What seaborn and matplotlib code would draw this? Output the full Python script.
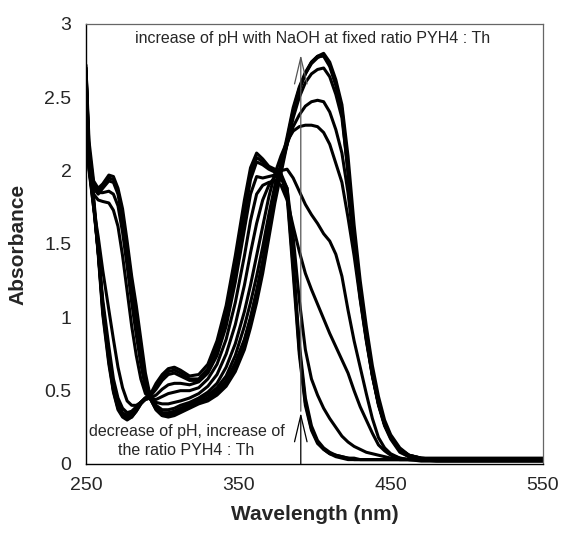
import numpy as np
import pandas as pd
import matplotlib
matplotlib.use("Agg")
import matplotlib.pyplot as plt
import seaborn as sns

wavelength = [250, 252, 255, 258, 261, 265, 268, 271, 274, 277, 280, 283, 286, 289, 292,
              296, 300, 304, 308, 312, 318, 324, 330, 336, 342, 348, 354, 358, 362, 366,
              370, 374, 378, 382, 386, 390, 394, 398, 402, 406, 410, 414, 418, 422, 426,
              430, 434, 438, 442, 446, 450, 456, 462, 470, 480, 500, 550]

acid_1 = [2.70, 2.20, 1.93, 1.88, 1.91, 1.97, 1.96, 1.88, 1.74, 1.52, 1.28, 1.08, 0.85, 0.62, 0.47,
          0.55, 0.61, 0.65, 0.66, 0.64, 0.60, 0.61, 0.68, 0.84, 1.08, 1.42, 1.80, 2.02, 2.12, 2.08,
          2.03, 2.01, 1.98, 1.88, 1.40, 0.82, 0.45, 0.26, 0.16, 0.11, 0.08, 0.06, 0.05, 0.04, 0.04,
          0.03, 0.03, 0.03, 0.03, 0.03, 0.03, 0.03, 0.03, 0.03, 0.03, 0.03, 0.03]
acid_2 = [2.68, 2.15, 1.90, 1.86, 1.90, 1.95, 1.94, 1.86, 1.70, 1.48, 1.24, 1.03, 0.80, 0.58, 0.46,
          0.53, 0.59, 0.63, 0.64, 0.62, 0.58, 0.58, 0.65, 0.80, 1.03, 1.36, 1.74, 1.98, 2.09, 2.06,
          2.02, 2.00, 1.97, 1.85, 1.35, 0.78, 0.42, 0.24, 0.15, 0.10, 0.07, 0.06, 0.05, 0.04, 0.03,
          0.03, 0.03, 0.03, 0.03, 0.03, 0.03, 0.03, 0.03, 0.02, 0.02, 0.02, 0.02]
acid_3 = [2.66, 2.12, 1.88, 1.84, 1.88, 1.93, 1.92, 1.84, 1.67, 1.45, 1.20, 0.99, 0.77, 0.56, 0.46,
          0.51, 0.57, 0.61, 0.62, 0.60, 0.57, 0.57, 0.63, 0.77, 0.99, 1.31, 1.69, 1.94, 2.06, 2.04,
          2.01, 1.99, 1.96, 1.83, 1.30, 0.75, 0.40, 0.23, 0.14, 0.10, 0.07, 0.05, 0.04, 0.03, 0.03,
          0.03, 0.03, 0.03, 0.03, 0.03, 0.03, 0.03, 0.03, 0.03, 0.03, 0.03, 0.03]
mid_w = [2.65, 2.10, 1.88, 1.85, 1.85, 1.86, 1.84, 1.76, 1.58, 1.35, 1.10, 0.88, 0.68, 0.52, 0.45,
         0.47, 0.51, 0.54, 0.55, 0.55, 0.54, 0.56, 0.62, 0.74, 0.94, 1.24, 1.60, 1.84, 1.96, 1.95,
         1.96, 1.97, 1.96, 1.88, 1.55, 1.12, 0.78, 0.58, 0.47, 0.38, 0.31, 0.25, 0.19, 0.15, 0.12,
         0.10, 0.08, 0.07, 0.06, 0.05, 0.04, 0.03, 0.03, 0.03, 0.03, 0.03, 0.03]
mid_y = [2.62, 2.05, 1.84, 1.80, 1.79, 1.78, 1.73, 1.62, 1.42, 1.18, 0.94, 0.74, 0.58, 0.48, 0.45,
         0.44, 0.46, 0.48, 0.49, 0.50, 0.50, 0.52, 0.58, 0.68, 0.85, 1.10, 1.42, 1.66, 1.84, 1.90,
         1.92, 1.93, 1.90, 1.80, 1.62, 1.45, 1.30, 1.19, 1.09, 0.99, 0.89, 0.80, 0.71, 0.62, 0.50,
         0.39, 0.30, 0.21, 0.13, 0.09, 0.06, 0.04, 0.03, 0.03, 0.03, 0.03, 0.03]
mid_x = [2.60, 2.00, 1.75, 1.55, 1.32, 1.05, 0.85, 0.66, 0.52, 0.43, 0.40, 0.40, 0.42, 0.44, 0.45,
         0.42, 0.41, 0.41, 0.42, 0.43, 0.45, 0.48, 0.53, 0.61, 0.75, 0.95, 1.22, 1.44, 1.64, 1.80,
         1.90, 1.96, 2.00, 2.01, 1.95, 1.86, 1.77, 1.70, 1.64, 1.57, 1.52, 1.43, 1.28, 1.05, 0.84,
         0.66, 0.48, 0.31, 0.18, 0.11, 0.07, 0.04, 0.03, 0.03, 0.03, 0.03, 0.03]
peak_23 = [2.62, 2.02, 1.75, 1.45, 1.12, 0.80, 0.58, 0.45, 0.38, 0.35, 0.36, 0.39, 0.42, 0.45, 0.45,
           0.40, 0.37, 0.37, 0.38, 0.40, 0.42, 0.45, 0.49, 0.55, 0.66, 0.82, 1.04, 1.22, 1.42, 1.62,
           1.82, 1.98, 2.10, 2.20, 2.27, 2.30, 2.31, 2.31, 2.30, 2.26, 2.18, 2.05, 1.92, 1.68, 1.42,
           1.12, 0.84, 0.60, 0.40, 0.26, 0.17, 0.08, 0.05, 0.03, 0.03, 0.03, 0.03]
peak_25 = [2.64, 2.03, 1.77, 1.45, 1.08, 0.75, 0.54, 0.41, 0.35, 0.33, 0.35, 0.38, 0.42, 0.45, 0.45,
           0.39, 0.35, 0.35, 0.36, 0.38, 0.41, 0.44, 0.47, 0.52, 0.60, 0.74, 0.94, 1.10, 1.28, 1.48,
           1.70, 1.90, 2.05, 2.18, 2.30, 2.38, 2.44, 2.47, 2.48, 2.47, 2.40, 2.28, 2.12, 1.85, 1.48,
           1.15, 0.86, 0.61, 0.41, 0.27, 0.18, 0.09, 0.05, 0.03, 0.03, 0.03, 0.03]
peak_27 = [2.66, 2.04, 1.78, 1.45, 1.06, 0.72, 0.52, 0.39, 0.34, 0.32, 0.34, 0.38, 0.42, 0.45, 0.45,
           0.38, 0.34, 0.34, 0.35, 0.37, 0.40, 0.43, 0.45, 0.50, 0.57, 0.69, 0.85, 1.00, 1.18, 1.38,
           1.62, 1.84, 2.02, 2.18, 2.36, 2.50, 2.60, 2.66, 2.69, 2.70, 2.64, 2.52, 2.36, 2.00, 1.55,
           1.17, 0.87, 0.61, 0.41, 0.27, 0.18, 0.09, 0.05, 0.03, 0.02, 0.02, 0.02]
peak_28a = [2.70, 2.05, 1.80, 1.45, 1.04, 0.70, 0.50, 0.38, 0.33, 0.31, 0.33, 0.37, 0.42, 0.45, 0.45,
            0.37, 0.33, 0.33, 0.34, 0.36, 0.39, 0.42, 0.44, 0.48, 0.55, 0.66, 0.82, 0.97, 1.14, 1.34,
            1.58, 1.82, 2.02, 2.21, 2.41, 2.56, 2.66, 2.73, 2.77, 2.79, 2.72, 2.60, 2.42, 2.03, 1.56,
            1.18, 0.89, 0.63, 0.43, 0.28, 0.19, 0.10, 0.06, 0.04, 0.03, 0.03, 0.03]
peak_28b = [2.72, 2.08, 1.82, 1.48, 1.08, 0.72, 0.51, 0.39, 0.33, 0.31, 0.32, 0.36, 0.41, 0.45, 0.45,
            0.37, 0.33, 0.32, 0.33, 0.35, 0.38, 0.41, 0.43, 0.47, 0.53, 0.63, 0.78, 0.93, 1.10, 1.30,
            1.54, 1.78, 1.98, 2.18, 2.39, 2.55, 2.66, 2.74, 2.78, 2.80, 2.74, 2.62, 2.45, 2.10, 1.63,
            1.25, 0.94, 0.67, 0.46, 0.30, 0.20, 0.11, 0.06, 0.04, 0.03, 0.03, 0.03]
peak_28c = [2.68, 2.02, 1.78, 1.43, 1.02, 0.68, 0.49, 0.37, 0.32, 0.30, 0.32, 0.36, 0.41, 0.44, 0.45,
            0.38, 0.34, 0.33, 0.34, 0.36, 0.39, 0.42, 0.44, 0.49, 0.56, 0.68, 0.84, 0.99, 1.17, 1.38,
            1.62, 1.85, 2.04, 2.23, 2.43, 2.57, 2.67, 2.74, 2.78, 2.78, 2.71, 2.58, 2.40, 1.98, 1.50,
            1.13, 0.85, 0.60, 0.41, 0.27, 0.18, 0.10, 0.06, 0.04, 0.04, 0.04, 0.04]

series = {
    "acid_1": acid_1, "acid_2": acid_2, "acid_3": acid_3,
    "mid_w": mid_w, "mid_y": mid_y, "mid_x": mid_x,
    "peak_23": peak_23, "peak_25": peak_25, "peak_27": peak_27,
    "peak_28a": peak_28a, "peak_28b": peak_28b, "peak_28c": peak_28c,
}

x_ticks = [250, 350, 450, 550]
y_ticks = [0, 0.5, 1, 1.5, 2, 2.5, 3]
y_tick_labels = ["0", "0.5", "1", "1.5", "2", "2.5", "3"]

frames = [pd.DataFrame({"Wavelength": wavelength, "Absorbance": vals, "curve": name})
          for name, vals in series.items()]
df = pd.concat(frames, ignore_index=True)

sns.set_style("white")
plt.rcParams["font.family"] = ["Liberation Sans", "DejaVu Sans"]

fig = plt.figure(figsize=(5.61, 5.41), dpi=100)
ax = fig.add_axes([86 / 561, 1 - 464 / 541, (543 - 86) / 561, (464 - 24) / 541])

sns.lineplot(data=df, x="Wavelength", y="Absorbance", hue="curve",
             palette={k: "black" for k in series}, legend=False, ax=ax,
             linewidth=2.2, estimator=None, sort=False)

ax.set_xlim(250, 550)
ax.set_ylim(0, 3)
ax.set_xticks(x_ticks)
ax.set_xticklabels([str(t) for t in x_ticks])
ax.set_yticks(y_ticks)
ax.set_yticklabels(y_tick_labels)
ax.tick_params(axis="both", direction="inout", length=9, width=1, color="black",
               labelsize=14, pad=6)
ax.tick_params(axis="x", pad=5)

for side in ["left", "bottom"]:
    ax.spines[side].set_color("black")
    ax.spines[side].set_linewidth(1.0)
for side in ["top", "right"]:
    ax.spines[side].set_color("#666666")
    ax.spines[side].set_linewidth(0.9)

ax.set_xlabel("Wavelength (nm)", fontsize=15, fontweight="bold", labelpad=8)
ax.set_ylabel("Absorbance", fontsize=15, fontweight="bold", labelpad=12)

# arrows
ax.annotate("", xy=(391, 2.79), xytext=(391, 0.36),
            arrowprops=dict(arrowstyle="->,head_length=1.9,head_width=0.45",
                            color="#555555", lw=0.9, shrinkA=0, shrinkB=0))
ax.annotate("", xy=(391, 0.35), xytext=(391, 0.0),
            arrowprops=dict(arrowstyle="->,head_length=1.9,head_width=0.45",
                            color="black", lw=0.9, shrinkA=0, shrinkB=0))

ax.text(399, 2.90, "increase of pH with NaOH at fixed ratio PYH4 : Th",
        ha="center", va="center", fontsize=11.5)
ax.text(316, 0.155, "decrease of pH, increase of\nthe ratio PYH4 : Th",
        ha="center", va="center", fontsize=11.5, linespacing=1.3)

fig.savefig("out.png", dpi=100)
